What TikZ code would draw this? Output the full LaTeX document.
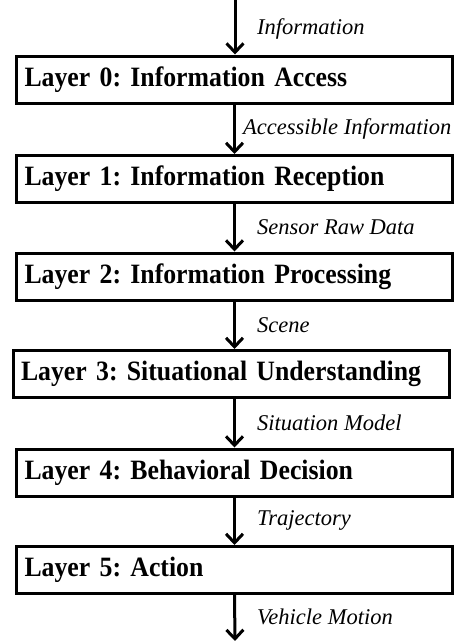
\documentclass[tikz,border=0pt]{standalone}
\usepackage{fontspec}
\setmainfont{Liberation Serif}
\newfontfamily\boxfont[FakeStretch=0.92]{Liberation Serif}
\usetikzlibrary{arrows.meta}
\frenchspacing
\begin{document}
\begin{tikzpicture}[x=1pt,y=-1pt,
  layerbox/.style={draw, line width=3pt, minimum width=436pt, minimum height=47pt,
    text width=420pt, inner xsep=8pt, inner ysep=0pt, align=left,
    font=\boxfont\fontsize{28}{30}\selectfont\bfseries\frenchspacing},
  flow/.style={line width=3pt, -{Straight Barb[length=9pt,width=17pt]}},
  flowlabel/.style={anchor=west, inner sep=0pt, font=\fontsize{22.5}{26}\selectfont\itshape}]
\path[use as bounding box] (0,0) rectangle (467,641);

\node[layerbox] (b0) at (234.5,79.5) {Layer 0: Information Access};
\node[layerbox] (b1) at (234.5,179) {Layer 1: Information Reception};
\node[layerbox] (b2) at (234.5,276.5) {Layer 2: Information Processing};
\node[layerbox] (b3) at (231,374) {Layer 3: Situational Understanding};
\node[layerbox] (b4) at (234.5,472.5) {Layer 4: Behavioral Decision};
\node[layerbox] (b5) at (234.5,570) {Layer 5: Action};

\coordinate (in) at (235,0);
\coordinate (out) at (235,641);

\draw[flow] (in) -- (in |- b0.north);
\draw[flow] (b0.south) -- (b0.south |- b1.north);
\draw[flow] (b1.south) -- (b1.south |- b2.north);
\draw[flow] (b2.south) -- (b2.south |- b3.north);
\draw[flow] (b2.south |- b3.south) -- (b2.south |- b4.north);
\draw[flow] (b4.south) -- (b4.south |- b5.north);
\draw[flow] (b5.south) -- (out);

\node[flowlabel] (l0) at (257,29) {Information};
\node[flowlabel] (l1) at (243,129) {Accessible Information};
\node[flowlabel] (l2) at (257,227.5) {Sensor Raw Data};
\node[flowlabel] (l3) at (257,325) {Scene};
\node[flowlabel] (l4) at (257,423) {Situation Model};
\node[flowlabel] (l5) at (257,520) {Trajectory};
\node[flowlabel] (l6) at (257,617) {Vehicle Motion};
\end{tikzpicture}
\end{document}
